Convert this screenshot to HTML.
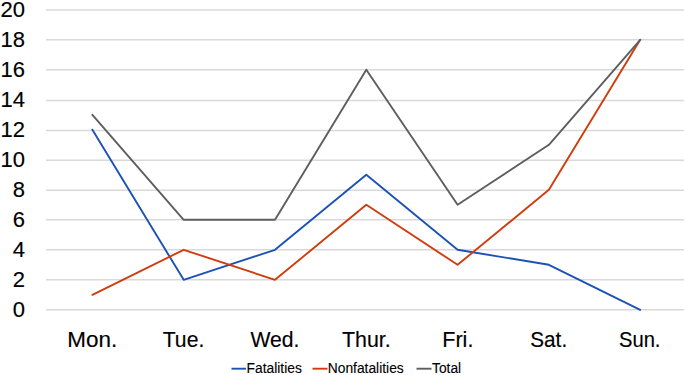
<!DOCTYPE html>
<html><head><meta charset="utf-8"><style>
html,body{margin:0;padding:0;background:#fff;width:685px;height:375px;overflow:hidden}
svg{display:block}
text{font-family:"Liberation Sans",sans-serif;fill:#000;stroke:#000;stroke-width:0.15px}
.lg text{stroke-width:0.12px}
</style></head><body>
<svg width="685" height="375" viewBox="0 0 685 375">
<g stroke="#d9d9d9" stroke-width="1.5">
<line x1="46" y1="309.8" x2="684" y2="309.8"/>
<line x1="46" y1="279.8" x2="684" y2="279.8"/>
<line x1="46" y1="249.8" x2="684" y2="249.8"/>
<line x1="46" y1="219.8" x2="684" y2="219.8"/>
<line x1="46" y1="190.3" x2="684" y2="190.3"/>
<line x1="46" y1="160.3" x2="684" y2="160.3"/>
<line x1="46" y1="130.4" x2="684" y2="130.4"/>
<line x1="46" y1="100.4" x2="684" y2="100.4"/>
<line x1="46" y1="69.7" x2="684" y2="69.7"/>
<line x1="46" y1="39.8" x2="684" y2="39.8"/>
<line x1="46" y1="9.9" x2="684" y2="9.9"/>
</g>
<g font-size="22" text-anchor="end">
<text x="25.1" y="316.80">0</text>
<text x="25.1" y="286.80">2</text>
<text x="25.1" y="256.80">4</text>
<text x="25.1" y="226.80">6</text>
<text x="25.1" y="196.80">8</text>
<text x="25.1" y="166.80">10</text>
<text x="25.1" y="136.80">12</text>
<text x="25.1" y="106.80">14</text>
<text x="25.1" y="76.80">16</text>
<text x="25.1" y="46.80">18</text>
<text x="25.1" y="16.80">20</text>
</g>
<g font-size="21.6" text-anchor="middle">
<text transform="translate(92.3,346.9) scale(1.04,1)">Mon.</text>
<text transform="translate(183.5,346.9) scale(0.98,1)">Tue.</text>
<text transform="translate(274.9,346.9) scale(0.98,1)">Wed.</text>
<text transform="translate(366.3,346.9) scale(0.99,1)">Thur.</text>
<text transform="translate(457.8,346.9) scale(1.0,1)">Fri.</text>
<text transform="translate(548.7,346.9) scale(0.96,1)">Sat.</text>
<text transform="translate(639.7,346.9) scale(0.935,1)">Sun.</text>
</g>
<g fill="none" stroke-width="1.9" stroke-linejoin="round" stroke-linecap="round">
<polyline stroke="#1c52b6" points="92.40,129.80 183.70,279.80 275.00,249.80 366.30,174.80 457.60,249.80 548.90,264.80 640.20,309.80"/>
<polyline stroke="#cf3d0e" points="92.40,294.80 183.70,249.80 275.00,279.80 366.30,204.80 457.60,264.80 548.90,189.80 640.20,39.80"/>
<polyline stroke="#5e5e5e" points="92.40,114.80 183.70,219.80 275.00,219.80 366.30,69.80 457.60,204.80 548.90,144.80 640.20,39.80"/>
</g>
<g stroke-width="1.9">
<line x1="231.5" y1="368.7" x2="246" y2="368.7" stroke="#1c52b6"/>
<line x1="312.5" y1="368.7" x2="327.5" y2="368.7" stroke="#cf3d0e"/>
<line x1="416.5" y1="368.7" x2="431.5" y2="368.7" stroke="#5e5e5e"/>
</g>
<g font-size="13.8" fill="#000" class="lg">
<text x="246.6" y="372.6">Fatalities</text>
<text x="327.8" y="372.6">Nonfatalities</text>
<text x="432.0" y="372.6">Total</text>
</g>
</svg>
</body></html>
